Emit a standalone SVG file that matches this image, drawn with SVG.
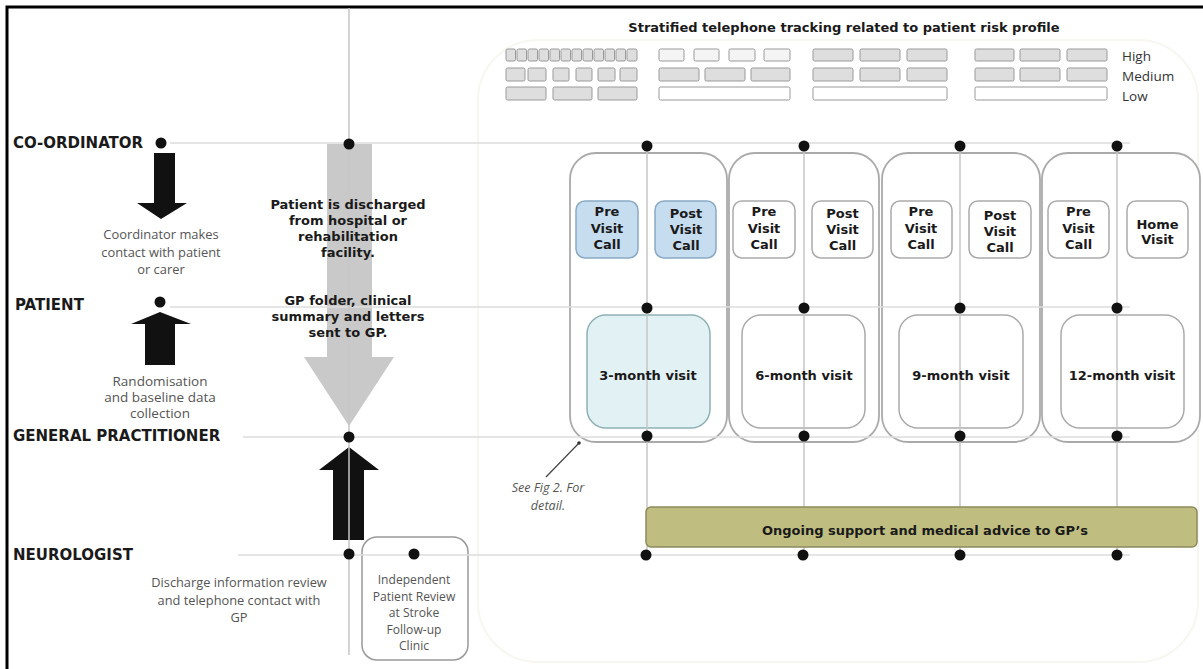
<svg xmlns="http://www.w3.org/2000/svg" width="1203" height="669" viewBox="0 0 1203 669">
<style>
.lane{font-family:"DejaVu Sans",Verdana,sans-serif;font-weight:bold;font-size:15px;fill:#1a1a1a}
.bold{font-family:"DejaVu Sans",Verdana,sans-serif;font-weight:bold;font-size:13px;fill:#1a1a1a;text-anchor:middle}
.cap{font-family:"Open Sans","Liberation Sans",sans-serif;font-size:13.5px;fill:#555;text-anchor:middle}
.capc{font-family:"Open Sans","Liberation Sans",sans-serif;font-size:12.9px;fill:#555;text-anchor:middle}
.caps{font-family:"Open Sans","Liberation Sans",sans-serif;font-size:12.8px;fill:#555;text-anchor:middle}
.capx{font-family:"Open Sans","Liberation Sans",sans-serif;font-size:12.1px;fill:#555;text-anchor:middle}
.leg{font-family:"Open Sans","Liberation Sans",sans-serif;font-size:13.5px;fill:#333}
.ital{font-family:"Open Sans","Liberation Sans",sans-serif;font-size:12.6px;font-style:italic;fill:#555;text-anchor:middle}
.rb{fill:#dedede;stroke:#999;stroke-width:1}
.rw{fill:#f4f4f4;stroke:#999;stroke-width:1}
.re{fill:#fff;stroke:#999;stroke-width:1}
.panel{fill:#fff;stroke:#aaa;stroke-width:1.8}
.call{fill:#fff;stroke:#aaa;stroke-width:1.5}
.callb{fill:#c6ddf0;stroke:#8aa9c4;stroke-width:1.5}
.visit{fill:#fff;stroke:#aaa;stroke-width:1.5}
.visitb{fill:#e2f1f4;stroke:#8fb1b5;stroke-width:1.5}
.hl{stroke:#dcdcdc;stroke-width:1.5;fill:none}
.vl{stroke:#c6c6c6;stroke-width:1.5;fill:none}
.dot{fill:#111}
</style>
<rect x="0" y="0" width="1203" height="669" fill="#fff"/>
<path d="M7 669 V7 H1203" fill="none" stroke="#000" stroke-width="3"/>
<rect x="478" y="40" width="720" height="622" rx="60" fill="none" stroke="#f8f6f0" stroke-width="2"/>

<g id="title">
<text class="bold" x="844" y="32">Stratified telephone tracking related to patient risk profile</text>
</g>

<g id="risk-profile">
<rect class="rb" x="506" y="49" width="9.5" height="12" rx="1.5"/>
<rect class="rb" x="517" y="49" width="9.5" height="12" rx="1.5"/>
<rect class="rb" x="528" y="49" width="9.5" height="12" rx="1.5"/>
<rect class="rb" x="539" y="49" width="9.5" height="12" rx="1.5"/>
<rect class="rb" x="550" y="49" width="9.5" height="12" rx="1.5"/>
<rect class="rb" x="561" y="49" width="9.5" height="12" rx="1.5"/>
<rect class="rb" x="572" y="49" width="9.5" height="12" rx="1.5"/>
<rect class="rb" x="583" y="49" width="9.5" height="12" rx="1.5"/>
<rect class="rb" x="594" y="49" width="9.5" height="12" rx="1.5"/>
<rect class="rb" x="605" y="49" width="9.5" height="12" rx="1.5"/>
<rect class="rb" x="616" y="49" width="9.5" height="12" rx="1.5"/>
<rect class="rb" x="627" y="49" width="10" height="12" rx="1.5"/>
<rect class="rb" x="506" y="68" width="19" height="13" rx="1.5"/>
<rect class="rb" x="528" y="68" width="18" height="13" rx="1.5"/>
<rect class="rb" x="553" y="68" width="16" height="13" rx="1.5"/>
<rect class="rb" x="576" y="68" width="16" height="13" rx="1.5"/>
<rect class="rb" x="598" y="68" width="17" height="13" rx="1.5"/>
<rect class="rb" x="620" y="68" width="17" height="13" rx="1.5"/>
<rect class="rb" x="506" y="87" width="40" height="13" rx="1.5"/>
<rect class="rb" x="553" y="87" width="39" height="13" rx="1.5"/>
<rect class="rb" x="598" y="87" width="39" height="13" rx="1.5"/>
<rect class="rw" x="659" y="49" width="25" height="12" rx="1.5"/>
<rect class="rw" x="694" y="49" width="25" height="12" rx="1.5"/>
<rect class="rw" x="729" y="49" width="26" height="12" rx="1.5"/>
<rect class="rw" x="764" y="49" width="26" height="12" rx="1.5"/>
<rect class="rb" x="659" y="68" width="40" height="13" rx="1.5"/>
<rect class="rb" x="705" y="68" width="40" height="13" rx="1.5"/>
<rect class="rb" x="751" y="68" width="39" height="13" rx="1.5"/>
<rect class="re" x="659" y="87" width="131" height="13" rx="1.5"/>
<rect class="rb" x="813" y="49" width="40" height="12" rx="1.5"/>
<rect class="rb" x="860" y="49" width="40" height="12" rx="1.5"/>
<rect class="rb" x="907" y="49" width="40" height="12" rx="1.5"/>
<rect class="rb" x="813" y="68" width="40" height="13" rx="1.5"/>
<rect class="rb" x="860" y="68" width="40" height="13" rx="1.5"/>
<rect class="rb" x="907" y="68" width="40" height="13" rx="1.5"/>
<rect class="re" x="813" y="87" width="134" height="13" rx="1.5"/>
<rect class="rb" x="975" y="49" width="39" height="12" rx="1.5"/>
<rect class="rb" x="1020" y="49" width="40" height="12" rx="1.5"/>
<rect class="rb" x="1067" y="49" width="40" height="12" rx="1.5"/>
<rect class="rb" x="975" y="68" width="39" height="13" rx="1.5"/>
<rect class="rb" x="1020" y="68" width="40" height="13" rx="1.5"/>
<rect class="rb" x="1067" y="68" width="40" height="13" rx="1.5"/>
<rect class="re" x="975" y="87" width="132" height="13" rx="1.5"/>
<text class="leg" x="1122" y="61">High</text>
<text class="leg" x="1122" y="81">Medium</text>
<text class="leg" x="1122" y="101">Low</text>
</g>

<g id="lane-coordinator"><text class="lane" x="13" y="148">CO-ORDINATOR</text></g>
<g id="lane-patient"><text class="lane" x="15" y="310">PATIENT</text></g>
<g id="lane-gp"><text class="lane" x="13" y="441">GENERAL PRACTITIONER</text></g>
<g id="lane-neurologist"><text class="lane" x="13" y="560">NEUROLOGIST</text></g>

<g id="arrow-coordinator">
<path d="M154 153 H175 V203 H187 L161 219 L137 203 H154 Z" fill="#111"/>
<text class="capc"><tspan x="161" y="239">Coordinator makes</tspan><tspan x="161" y="256.5">contact with patient</tspan><tspan x="161" y="274">or carer</tspan></text>
</g>
<g id="arrow-patient">
<path d="M160 312 L191 324 H175 V365 H145 V324 H131 Z" fill="#111"/>
<text class="cap"><tspan x="160" y="386">Randomisation</tspan><tspan x="160" y="402">and baseline data</tspan><tspan x="160" y="418">collection</tspan></text>
</g>
<g id="discharge-arrow">
<path d="M327 144 H372 V357 H394 L349 426 L304 357 H327 Z" fill="#c9c9c9"/>
</g>
<g id="arrow-neurologist">
<path d="M349 447 L379 470 H364 V540 H333 V470 H319 Z" fill="#111"/>
<text class="caps"><tspan x="239" y="587">Discharge information review</tspan><tspan x="239" y="604.5">and telephone contact with</tspan><tspan x="239" y="622">GP</tspan></text>
</g>
<g id="independent-review">
<rect x="362" y="537" width="106" height="123" rx="15" fill="#fff" stroke="#999" stroke-width="1.5"/>
<text class="capx"><tspan x="414" y="584">Independent</tspan><tspan x="414" y="600.5">Patient Review</tspan><tspan x="414" y="617">at Stroke</tspan><tspan x="414" y="633.5">Follow-up</tspan><tspan x="414" y="650">Clinic</tspan></text>
</g>

<g id="panel-3m">
<rect class="panel" x="570" y="153" width="157" height="289" rx="26"/>
<rect class="callb" x="576" y="201" width="62" height="57" rx="9"/>
<text class="bold"><tspan x="607" y="216">Pre</tspan><tspan x="607" y="233">Visit</tspan><tspan x="607" y="249">Call</tspan></text>
<rect class="callb" x="655" y="201" width="61" height="57" rx="9"/>
<text class="bold"><tspan x="686" y="218">Post</tspan><tspan x="686" y="234">Visit</tspan><tspan x="686" y="250">Call</tspan></text>
<rect class="visitb" x="587" y="315" width="123" height="113" rx="19"/>
</g>
<g id="panel-6m">
<rect class="panel" x="729" y="153" width="150" height="289" rx="26"/>
<rect class="call" x="733" y="201" width="62" height="57" rx="9"/>
<text class="bold"><tspan x="764" y="216">Pre</tspan><tspan x="764" y="233">Visit</tspan><tspan x="764" y="249">Call</tspan></text>
<rect class="call" x="812" y="201" width="61" height="57" rx="9"/>
<text class="bold"><tspan x="842.5" y="218">Post</tspan><tspan x="842.5" y="234">Visit</tspan><tspan x="842.5" y="250">Call</tspan></text>
<rect class="visit" x="742" y="315" width="123" height="113" rx="19"/>
</g>
<g id="panel-9m">
<rect class="panel" x="882" y="153" width="158" height="289" rx="26"/>
<rect class="call" x="891" y="201" width="61" height="57" rx="9"/>
<text class="bold"><tspan x="921" y="216">Pre</tspan><tspan x="921" y="233">Visit</tspan><tspan x="921" y="249">Call</tspan></text>
<rect class="call" x="969" y="201" width="62" height="57" rx="9"/>
<text class="bold"><tspan x="1000" y="220">Post</tspan><tspan x="1000" y="236">Visit</tspan><tspan x="1000" y="252">Call</tspan></text>
<rect class="visit" x="899" y="315" width="124" height="113" rx="19"/>
</g>
<g id="panel-12m">
<rect class="panel" x="1042" y="153" width="158" height="289" rx="26"/>
<rect class="call" x="1048" y="201" width="61" height="57" rx="9"/>
<text class="bold"><tspan x="1078.5" y="216">Pre</tspan><tspan x="1078.5" y="233">Visit</tspan><tspan x="1078.5" y="249">Call</tspan></text>
<rect class="call" x="1127" y="201" width="61" height="57" rx="9"/>
<text class="bold"><tspan x="1157.5" y="229">Home</tspan><tspan x="1157.5" y="244">Visit</tspan></text>
<rect class="visit" x="1061" y="315" width="123" height="113" rx="19"/>
</g>

<g id="connectors">
<line class="hl" x1="170" y1="143" x2="1130" y2="143"/>
<line class="hl" x1="170" y1="307" x2="1130" y2="307"/>
<line class="hl" x1="243" y1="437" x2="1130" y2="437"/>
<line class="hl" x1="238" y1="555" x2="1130" y2="555"/>
<line class="vl" x1="349" y1="8" x2="349" y2="655"/>
<line class="vl" x1="647" y1="145" x2="647" y2="555"/>
<line class="vl" x1="804" y1="145" x2="804" y2="555"/>
<line class="vl" x1="960" y1="145" x2="960" y2="555"/>
<line class="vl" x1="1117" y1="145" x2="1117" y2="555"/>
<line x1="546" y1="477" x2="579" y2="443" stroke="#444" stroke-width="1.2"/>
<circle cx="579" cy="443" r="1.8" fill="#333"/>
<circle class="dot" cx="161" cy="143" r="5.5"/>
<circle class="dot" cx="160" cy="302" r="5.5"/>
<circle class="dot" cx="349" cy="144" r="5.5"/>
<circle class="dot" cx="349" cy="437" r="5.5"/>
<circle class="dot" cx="349" cy="554" r="5.5"/>
<circle class="dot" cx="414" cy="554" r="5.5"/>
<circle class="dot" cx="647" cy="146" r="5.5"/>
<circle class="dot" cx="804" cy="146" r="5.5"/>
<circle class="dot" cx="960" cy="146" r="5.5"/>
<circle class="dot" cx="1117" cy="146" r="5.5"/>
<circle class="dot" cx="647" cy="308" r="5.5"/>
<circle class="dot" cx="804" cy="308" r="5.5"/>
<circle class="dot" cx="960" cy="308" r="5.5"/>
<circle class="dot" cx="1117" cy="308" r="5.5"/>
<circle class="dot" cx="647" cy="436" r="5.5"/>
<circle class="dot" cx="804" cy="436" r="5.5"/>
<circle class="dot" cx="960" cy="436" r="5.5"/>
<circle class="dot" cx="1117" cy="436" r="5.5"/>
<circle class="dot" cx="646" cy="555" r="5.5"/>
<circle class="dot" cx="803" cy="555" r="5.5"/>
<circle class="dot" cx="960" cy="555" r="5.5"/>
<circle class="dot" cx="1117" cy="555" r="5.5"/>
</g>

<g id="discharge-text">
<text class="bold"><tspan x="348" y="209">Patient is discharged</tspan><tspan x="348" y="225">from hospital or</tspan><tspan x="348" y="241">rehabilitation</tspan><tspan x="348" y="257">facility.</tspan></text>
<text class="bold"><tspan x="348" y="305">GP folder, clinical</tspan><tspan x="348" y="321">summary and letters</tspan><tspan x="348" y="336.5">sent to GP.</tspan></text>
</g>
<g id="visit-labels">
<text class="bold" x="648" y="380">3-month visit</text>
<text class="bold" x="804" y="380">6-month visit</text>
<text class="bold" x="961" y="380">9-month visit</text>
<text class="bold" x="1122" y="380">12-month visit</text>
</g>
<g id="see-fig">
<text class="ital"><tspan x="548" y="492">See Fig 2. For</tspan><tspan x="548" y="509.5">detail.</tspan></text>
</g>
<g id="ongoing-support">
<rect x="646" y="507" width="551" height="40" rx="5" fill="#bfbd80" stroke="#8d8b5c" stroke-width="1.5"/>
<text class="bold" x="925" y="535">Ongoing support and medical advice to GP’s</text>
</g>
</svg>
